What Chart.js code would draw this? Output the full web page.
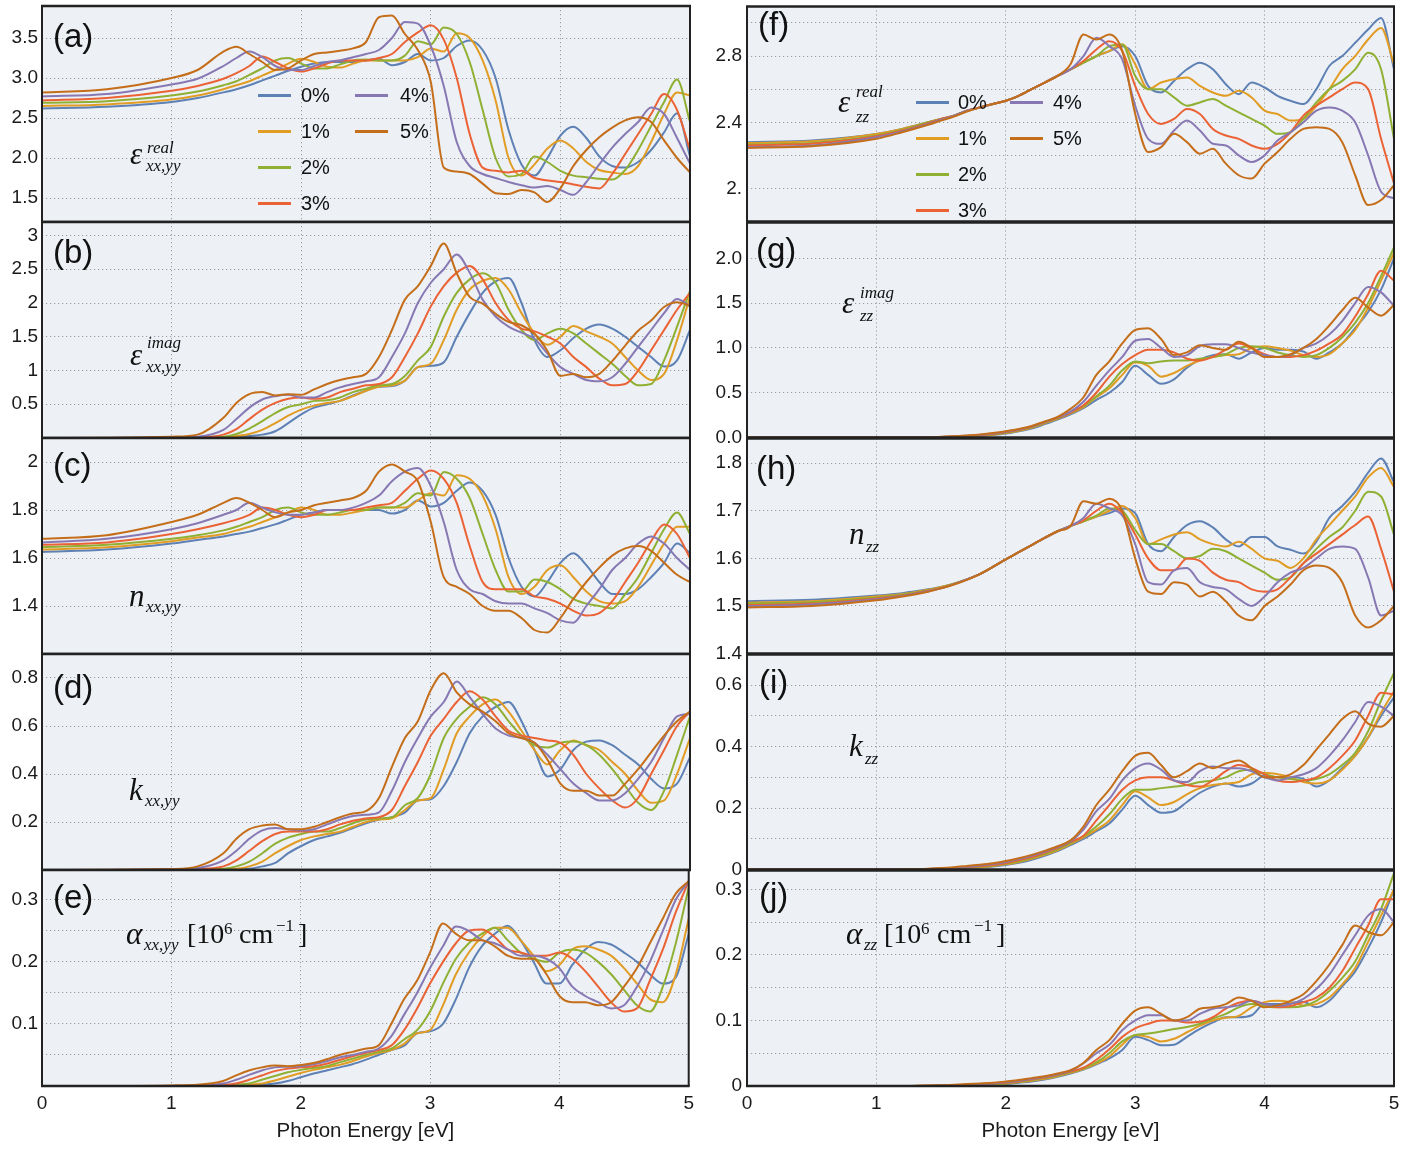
<!DOCTYPE html>
<html><head><meta charset="utf-8">
<script src="https://cdn.jsdelivr.net/npm/chart.js@4.4.0/dist/chart.umd.min.js"></script>
<style>
html,body{margin:0;padding:0;background:#fff;}
body{width:1418px;height:1149px;position:relative;overflow:hidden;font-family:"Liberation Sans",Arial,sans-serif;}
canvas{position:absolute;}
.t{position:absolute;white-space:nowrap;line-height:1;color:#111;}
.serif{font-family:"Liberation Serif","Times New Roman",serif;}
.it{font-style:italic;}
.sans{font-family:"Liberation Sans",Arial,sans-serif;}
.lg{position:absolute;height:3px;width:33px;}
</style></head><body>
<script>
// ---------------- DATA ----------------
const E = [0,0.5,1,1.2,1.4,1.5,1.6,1.7,1.8,1.9,2,2.1,2.2,2.3,2.4,2.5,2.6,2.7,2.8,2.9,3,3.1,3.2,3.3,3.4,3.5,3.6,3.7,3.8,3.9,4,4.1,4.2,4.3,4.4,4.5,4.6,4.7,4.8,4.9,5];
const strains = ['0%','1%','2%','3%','4%','5%'];
const xTicks = [0,1,2,3,4,5];
const xLabels = ['0','1','2','3','4','5'];
const xTitle = 'Photon Energy [eV]';

// (a) eps real xx,yy
const a0=[2.62,2.64,2.70,2.75,2.82, 2.86,2.91,2.97,3.03,3.09, 3.14,3.18,3.20,3.20,3.20, 3.22,3.24,3.16,3.20,3.30, 3.22,3.25,3.40,3.47,3.35, 3.00,2.35,1.92,1.78,2.00, 2.28,2.39,2.25,2.02,1.90, 1.88,1.95,2.10,2.32,2.56, 2.02];
const a1=[2.65,2.67,2.73,2.78,2.86, 2.91,2.96,3.03,3.10,3.18, 3.24,3.20,3.14,3.13,3.18, 3.22,3.22,3.22,3.22,3.26, 3.37,3.33,3.56,3.50,3.22, 2.72,2.00,1.78,1.92,2.12, 2.22,2.12,1.95,1.85,1.82, 1.80,1.90,2.20,2.55,2.82, 2.78];
const a2=[2.69,2.71,2.78,2.83,2.91, 2.96,3.04,3.12,3.22,3.25, 3.18,3.12,3.12,3.17,3.22, 3.23,3.22,3.22,3.28,3.46, 3.42,3.63,3.55,3.20,2.60, 2.00,1.77,1.80,2.02,1.95, 1.84,1.78,1.76,1.74,1.73, 1.85,2.10,2.40,2.70,2.98, 2.45];
const a3=[2.72,2.75,2.84,2.90,2.99, 3.06,3.15,3.27,3.20,3.12, 3.08,3.12,3.18,3.22,3.22, 3.22,3.25,3.30,3.45,3.57, 3.66,3.48,3.00,2.30,1.88, 1.84,1.82,1.84,1.75,1.72, 1.70,1.67,1.64,1.62,1.80, 2.05,2.30,2.55,2.80,2.60, 2.10];
const a4=[2.77,2.80,2.92,2.99,3.15, 3.25,3.33,3.26,3.15,3.10, 3.10,3.15,3.20,3.22,3.26, 3.30,3.35,3.50,3.70,3.68, 3.40,2.90,2.20,1.90,1.80, 1.75,1.70,1.66,1.63,1.65, 1.60,1.54,1.70,1.92,2.13, 2.30,2.45,2.63,2.55,2.25, 1.93];
const a5=[2.82,2.86,3.00,3.10,3.33, 3.39,3.30,3.20,3.10,3.12, 3.22,3.30,3.32,3.34,3.37, 3.45,3.76,3.78,3.55,3.35, 2.95,1.88,1.83,1.80,1.68, 1.56,1.55,1.60,1.57,1.45, 1.62,1.90,2.10,2.26,2.38, 2.47,2.51,2.45,2.22,2.00, 1.82];
// (b) eps imag xx,yy
const b0=[0,0,0.003,0.005,0.01, 0.015,0.03,0.05,0.10,0.22, 0.35,0.45,0.50,0.55,0.63, 0.70,0.76,0.77,0.85,1.05, 1.07,1.12,1.50,1.85,2.15, 2.32,2.37,2.00,1.45,1.20, 1.30,1.48,1.62,1.68,1.62, 1.50,1.35,1.20,1.06,1.15, 1.60];
const b1=[0,0,0.003,0.006,0.012, 0.03,0.06,0.12,0.22,0.33, 0.42,0.48,0.52,0.55,0.62, 0.70,0.76,0.78,0.85,1.05, 1.10,1.45,1.90,2.20,2.33, 2.37,2.20,1.85,1.55,1.38, 1.50,1.66,1.58,1.50,1.40, 1.20,1.00,0.86,0.95,1.45, 2.10];
const b2=[0,0,0.004,0.008,0.02, 0.06,0.14,0.25,0.37,0.46, 0.50,0.55,0.56,0.60,0.68, 0.73,0.78,0.80,0.92,1.15, 1.35,1.80,2.15,2.35,2.44, 2.30,1.90,1.60,1.45,1.55, 1.62,1.55,1.40,1.25,1.10, 0.92,0.78,0.80,1.15,1.65, 2.18];
const b3=[0,0,0.005,0.01,0.05, 0.13,0.28,0.42,0.52,0.58, 0.60,0.58,0.60,0.68,0.73, 0.78,0.80,0.90,1.20,1.55, 1.95,2.25,2.45,2.55,2.35, 2.00,1.75,1.62,1.58,1.50, 1.40,1.20,1.05,0.88,0.78, 0.80,1.00,1.30,1.60,1.90, 2.15];
const b4=[0,0,0.008,0.02,0.12, 0.28,0.45,0.57,0.62,0.64, 0.60,0.60,0.68,0.75,0.80, 0.84,0.90,1.20,1.55,2.00, 2.30,2.50,2.72,2.45,2.05, 1.80,1.65,1.56,1.47,1.25, 1.05,0.95,0.86,0.84,0.90, 1.10,1.35,1.60,1.85,2.06, 1.95];
const b5=[0,0.003,0.02,0.05,0.30, 0.52,0.65,0.68,0.63,0.65, 0.64,0.72,0.80,0.86,0.90, 0.95,1.20,1.60,2.05,2.25, 2.55,2.88,2.44,2.09,1.99, 1.84,1.72,1.67,1.54,1.29, 0.92,0.95,0.90,0.95,1.14, 1.37,1.59,1.74,1.94,2.01, 1.96];
// (c) n xx,yy
const c0=[1.625,1.635,1.66,1.675,1.69, 1.70,1.71,1.725,1.74,1.76, 1.78,1.79,1.80,1.80,1.80, 1.80,1.80,1.785,1.80,1.84, 1.815,1.83,1.88,1.915,1.88, 1.78,1.60,1.48,1.44,1.50, 1.58,1.62,1.57,1.50,1.45, 1.45,1.47,1.52,1.58,1.66, 1.62];
const c1=[1.635,1.645,1.67,1.685,1.70, 1.715,1.73,1.75,1.77,1.79, 1.81,1.80,1.78,1.78,1.79, 1.80,1.81,1.81,1.81,1.84, 1.87,1.86,1.945,1.93,1.86, 1.72,1.52,1.45,1.48,1.55, 1.57,1.52,1.46,1.42,1.41, 1.42,1.48,1.57,1.66,1.73, 1.73];
const c2=[1.645,1.655,1.68,1.695,1.715, 1.73,1.75,1.77,1.80,1.81, 1.79,1.78,1.78,1.79,1.80, 1.80,1.81,1.81,1.83,1.87, 1.86,1.958,1.93,1.85,1.70, 1.55,1.46,1.46,1.51,1.50, 1.47,1.43,1.41,1.40,1.39, 1.45,1.52,1.62,1.72,1.79, 1.70];
const c3=[1.655,1.665,1.70,1.72,1.745, 1.76,1.78,1.81,1.80,1.78, 1.77,1.78,1.80,1.80,1.80, 1.81,1.82,1.83,1.88,1.93, 1.965,1.93,1.83,1.65,1.50, 1.47,1.47,1.47,1.44,1.43, 1.41,1.38,1.36,1.37,1.42, 1.50,1.58,1.67,1.74,1.70, 1.60];
const c4=[1.665,1.68,1.72,1.745,1.78, 1.80,1.83,1.81,1.79,1.78, 1.78,1.79,1.80,1.80,1.81, 1.83,1.86,1.92,1.96,1.975, 1.90,1.75,1.55,1.47,1.45, 1.42,1.41,1.41,1.39,1.37, 1.34,1.33,1.40,1.47,1.55, 1.60,1.66,1.69,1.66,1.60, 1.55];
const c5=[1.68,1.695,1.75,1.78,1.83, 1.85,1.83,1.80,1.77,1.79, 1.80,1.82,1.83,1.84,1.85, 1.88,1.96,1.99,1.96,1.92, 1.75,1.52,1.48,1.45,1.40, 1.38,1.38,1.35,1.30,1.29, 1.35,1.43,1.50,1.56,1.61, 1.64,1.65,1.63,1.58,1.53, 1.50];
// (d) k xx,yy
const d0=[0,0,0,0.001,0.002, 0.003,0.005,0.015,0.03,0.07, 0.10,0.125,0.14,0.155,0.175, 0.195,0.21,0.22,0.24,0.29, 0.295,0.35,0.45,0.57,0.64, 0.68,0.70,0.62,0.50,0.39, 0.42,0.50,0.535,0.54,0.52, 0.48,0.44,0.38,0.34,0.36, 0.47];
const d1=[0,0,0.001,0.002,0.003, 0.005,0.015,0.035,0.07,0.10, 0.125,0.14,0.15,0.16,0.18, 0.20,0.21,0.215,0.25,0.29, 0.30,0.42,0.57,0.64,0.69, 0.71,0.66,0.58,0.50,0.44, 0.50,0.54,0.52,0.50,0.45, 0.40,0.33,0.28,0.29,0.40, 0.55];
const d2=[0,0,0.001,0.002,0.005, 0.015,0.035,0.07,0.11,0.135, 0.15,0.16,0.16,0.175,0.195, 0.21,0.215,0.22,0.27,0.30, 0.40,0.55,0.63,0.68,0.72, 0.69,0.62,0.56,0.52,0.51, 0.53,0.535,0.52,0.48,0.42, 0.35,0.28,0.25,0.33,0.48, 0.64];
const d3=[0,0,0.002,0.004,0.015, 0.04,0.08,0.12,0.15,0.16, 0.16,0.16,0.17,0.19,0.205, 0.215,0.22,0.25,0.35,0.45, 0.56,0.63,0.70,0.745,0.71, 0.64,0.58,0.56,0.55,0.54, 0.53,0.48,0.40,0.34,0.29, 0.26,0.30,0.40,0.50,0.60, 0.66];
const d4=[0,0,0.003,0.008,0.04, 0.08,0.13,0.165,0.175,0.17, 0.165,0.17,0.19,0.21,0.225, 0.23,0.24,0.33,0.45,0.55, 0.64,0.70,0.785,0.72,0.65, 0.59,0.56,0.55,0.53,0.48, 0.42,0.36,0.32,0.29,0.29, 0.32,0.38,0.45,0.55,0.64, 0.65];
const d5=[0,0.001,0.004,0.015,0.07, 0.13,0.17,0.185,0.19,0.17, 0.17,0.18,0.20,0.22,0.235, 0.245,0.30,0.43,0.55,0.62, 0.75,0.82,0.74,0.69,0.66, 0.62,0.57,0.55,0.53,0.46, 0.36,0.33,0.33,0.31,0.31, 0.36,0.42,0.49,0.56,0.62, 0.66];
// (e) alpha xx,yy
const e0=[0,0,0,0,0, 0,0.001,0.002,0.004,0.008, 0.014,0.02,0.025,0.03,0.035, 0.042,0.05,0.058,0.065,0.085, 0.088,0.10,0.14,0.19,0.225, 0.245,0.258,0.235,0.20,0.165, 0.165,0.195,0.22,0.232,0.228, 0.215,0.20,0.18,0.165,0.175, 0.245];
const e1=[0,0,0,0,0, 0.001,0.002,0.004,0.009,0.015, 0.021,0.026,0.03,0.034,0.04, 0.047,0.053,0.058,0.068,0.085, 0.09,0.13,0.18,0.215,0.24, 0.255,0.255,0.235,0.21,0.185, 0.195,0.22,0.225,0.22,0.21, 0.19,0.165,0.14,0.135,0.18, 0.27];
const e2=[0,0,0,0,0.001, 0.002,0.004,0.01,0.016,0.022, 0.026,0.029,0.032,0.038,0.044, 0.05,0.055,0.06,0.075,0.09, 0.12,0.165,0.205,0.23,0.245, 0.255,0.235,0.215,0.205,0.20, 0.215,0.22,0.215,0.20,0.18, 0.155,0.13,0.12,0.16,0.23, 0.32];
const e3=[0,0,0,0.001,0.002, 0.004,0.01,0.017,0.024,0.028, 0.03,0.032,0.036,0.042,0.048, 0.053,0.058,0.065,0.09,0.125, 0.165,0.20,0.23,0.25,0.252, 0.24,0.22,0.215,0.21,0.21, 0.215,0.205,0.185,0.16,0.135, 0.12,0.125,0.17,0.22,0.28, 0.33];
const e4=[0,0,0,0.001,0.004, 0.01,0.018,0.025,0.03,0.031, 0.032,0.035,0.04,0.046,0.05, 0.055,0.06,0.08,0.115,0.15, 0.19,0.225,0.257,0.25,0.235, 0.23,0.22,0.21,0.21,0.205, 0.19,0.16,0.145,0.135,0.125, 0.13,0.16,0.20,0.25,0.30, 0.33];
const e5=[0,0,0.001,0.002,0.008, 0.017,0.025,0.03,0.033,0.032, 0.034,0.037,0.043,0.05,0.055, 0.06,0.065,0.10,0.14,0.17, 0.215,0.262,0.245,0.235,0.235, 0.225,0.21,0.205,0.205,0.18, 0.145,0.135,0.135,0.13,0.135, 0.16,0.19,0.23,0.27,0.31, 0.33];
// (f) eps real zz
const f0=[2.28,2.29,2.33,2.36,2.40, 2.42,2.44,2.47,2.49,2.51, 2.53,2.56,2.60,2.64,2.68, 2.72,2.76,2.80,2.83,2.86, 2.80,2.62,2.58,2.65,2.72, 2.76,2.72,2.63,2.57,2.64, 2.61,2.56,2.53,2.51,2.60, 2.74,2.80,2.88,2.96,3.03, 2.72];
const f1=[2.275,2.285,2.33,2.36,2.40, 2.42,2.44,2.47,2.49,2.51, 2.53,2.56,2.60,2.64,2.68, 2.72,2.76,2.80,2.83,2.87, 2.75,2.60,2.64,2.66,2.67, 2.62,2.58,2.56,2.59,2.55, 2.47,2.45,2.41,2.42,2.50, 2.60,2.72,2.80,2.90,2.97, 2.75];
const f2=[2.265,2.275,2.32,2.355,2.40, 2.42,2.44,2.47,2.49,2.51, 2.53,2.56,2.60,2.64,2.68, 2.72,2.76,2.80,2.86,2.87, 2.68,2.60,2.60,2.55,2.50, 2.52,2.54,2.50,2.46,2.42, 2.38,2.33,2.34,2.42,2.52, 2.60,2.65,2.72,2.82,2.72, 2.30];
const f3=[2.26,2.27,2.315,2.35,2.395, 2.42,2.44,2.47,2.49,2.51, 2.53,2.56,2.60,2.64,2.68, 2.72,2.77,2.84,2.89,2.83, 2.62,2.45,2.39,2.42,2.48, 2.45,2.36,2.32,2.30,2.26, 2.24,2.27,2.34,2.44,2.50, 2.55,2.60,2.64,2.60,2.30, 2.03];
const f4=[2.25,2.26,2.31,2.345,2.39, 2.415,2.44,2.47,2.49,2.51, 2.53,2.56,2.60,2.64,2.68, 2.72,2.80,2.91,2.86,2.78, 2.50,2.30,2.27,2.35,2.41, 2.35,2.27,2.26,2.20,2.16, 2.20,2.29,2.34,2.40,2.47, 2.49,2.47,2.40,2.20,1.98, 1.94];
const f5=[2.245,2.255,2.30,2.34,2.385, 2.41,2.435,2.465,2.49,2.51, 2.53,2.56,2.60,2.64,2.68, 2.75,2.93,2.90,2.93,2.83, 2.45,2.22,2.25,2.33,2.28, 2.21,2.24,2.15,2.08,2.06, 2.15,2.22,2.30,2.36,2.37, 2.36,2.28,2.08,1.90,1.93, 2.02];
// (g) eps imag zz
const g0=[0,0,0,0,0.002, 0.005,0.01,0.015,0.02,0.03, 0.045,0.07,0.10,0.15,0.20, 0.26,0.33,0.42,0.50,0.62, 0.80,0.70,0.60,0.65,0.78, 0.87,0.92,0.93,0.88,0.95, 1.00,0.98,0.98,0.96,0.88, 0.95,1.05,1.22,1.40,1.65, 2.00];
const g1=[0,0,0,0,0.002, 0.005,0.01,0.016,0.022,0.033, 0.05,0.075,0.11,0.16,0.21, 0.27,0.34,0.45,0.55,0.70, 0.84,0.80,0.68,0.72,0.80, 0.86,0.90,0.92,0.93,1.00, 1.02,1.00,0.97,0.92,0.90, 0.93,1.05,1.20,1.45,1.75, 2.06];
const g2=[0,0,0,0,0.002, 0.006,0.011,0.017,0.024,0.036, 0.055,0.08,0.115,0.165,0.215, 0.275,0.35,0.46,0.58,0.75, 0.85,0.83,0.85,0.86,0.86, 0.88,0.90,0.93,1.00,1.02, 1.00,0.95,0.92,0.90,0.92, 1.00,1.12,1.28,1.50,1.80, 2.12];
const g3=[0,0,0,0,0.003, 0.007,0.012,0.019,0.027,0.04, 0.06,0.085,0.12,0.17,0.22, 0.28,0.36,0.50,0.68,0.82, 0.92,0.98,0.98,0.95,0.88, 0.86,0.90,0.98,1.05,1.00, 0.93,0.90,0.90,0.92,0.97, 1.05,1.15,1.35,1.60,1.86, 1.75];
const g4=[0,0,0,0,0.003, 0.008,0.013,0.021,0.03,0.045, 0.065,0.09,0.125,0.175,0.225, 0.29,0.40,0.58,0.75,0.90, 1.08,1.10,1.00,0.90,0.92, 1.02,1.04,1.04,1.00,0.95, 0.92,0.90,0.92,1.00,1.05, 1.15,1.30,1.50,1.68,1.62, 1.47];
const g5=[0,0,0,0.001,0.004, 0.009,0.015,0.024,0.035,0.05, 0.07,0.095,0.13,0.18,0.23, 0.32,0.45,0.70,0.85,1.05, 1.20,1.22,1.10,0.92,0.95, 1.03,1.00,0.98,1.07,1.00, 0.90,0.90,0.93,1.00,1.10, 1.25,1.42,1.56,1.45,1.36, 1.48];
// (h) n zz
const h0=[1.510,1.513,1.522,1.527,1.535, 1.540,1.547,1.556,1.567,1.582, 1.598,1.613,1.628,1.643,1.657, 1.668,1.678,1.688,1.695,1.705, 1.695,1.63,1.615,1.645,1.67, 1.678,1.665,1.64,1.625,1.645, 1.645,1.625,1.618,1.61,1.635, 1.685,1.71,1.74,1.78,1.81, 1.76];
const h1=[1.507,1.510,1.520,1.525,1.534, 1.540,1.547,1.556,1.567,1.582, 1.598,1.613,1.628,1.643,1.657, 1.668,1.678,1.688,1.70,1.71, 1.685,1.63,1.64,1.65,1.655, 1.64,1.63,1.625,1.635,1.62, 1.60,1.595,1.58,1.60,1.64, 1.67,1.70,1.73,1.77,1.79, 1.75];
const h2=[1.505,1.508,1.518,1.524,1.533, 1.539,1.547,1.556,1.567,1.582, 1.598,1.613,1.628,1.643,1.657, 1.668,1.678,1.69,1.705,1.70, 1.66,1.63,1.63,1.615,1.60, 1.605,1.62,1.615,1.60,1.585, 1.57,1.555,1.56,1.59,1.62, 1.645,1.665,1.70,1.74,1.73, 1.65];
const h3=[1.502,1.505,1.516,1.522,1.532, 1.538,1.546,1.556,1.567,1.582, 1.598,1.613,1.628,1.643,1.657, 1.668,1.68,1.70,1.715,1.695, 1.65,1.60,1.575,1.575,1.60, 1.595,1.57,1.555,1.55,1.535, 1.53,1.535,1.56,1.59,1.61, 1.63,1.65,1.67,1.688,1.62, 1.53];
const h4=[1.500,1.503,1.514,1.521,1.531, 1.537,1.546,1.556,1.567,1.582, 1.598,1.613,1.628,1.643,1.657, 1.668,1.685,1.715,1.705,1.69, 1.63,1.55,1.545,1.575,1.58, 1.55,1.54,1.535,1.515,1.50, 1.52,1.55,1.57,1.58,1.60, 1.62,1.625,1.62,1.56,1.48, 1.49];
const h5=[1.497,1.500,1.512,1.520,1.530, 1.537,1.545,1.555,1.567,1.582, 1.598,1.613,1.628,1.643,1.657, 1.668,1.72,1.715,1.725,1.70, 1.60,1.53,1.525,1.55,1.545, 1.52,1.53,1.51,1.48,1.47, 1.50,1.52,1.545,1.575,1.585, 1.58,1.55,1.48,1.455,1.47, 1.50];
// (i) k zz
const i0=[0,0,0,0,0.001, 0.002,0.003,0.005,0.007,0.01, 0.015,0.022,0.032,0.045,0.06, 0.08,0.10,0.125,0.15,0.195, 0.24,0.21,0.185,0.19,0.22, 0.25,0.27,0.28,0.27,0.28, 0.305,0.30,0.30,0.295,0.27, 0.29,0.33,0.37,0.43,0.50, 0.56];
const i1=[0,0,0,0,0.001, 0.002,0.004,0.006,0.008,0.012, 0.017,0.025,0.035,0.048,0.063, 0.083,0.105,0.13,0.16,0.21, 0.255,0.235,0.21,0.22,0.245, 0.265,0.275,0.28,0.285,0.31, 0.315,0.31,0.30,0.285,0.28, 0.29,0.325,0.37,0.43,0.51, 0.58];
const i2=[0,0,0,0,0.001, 0.002,0.004,0.007,0.009,0.013, 0.019,0.027,0.038,0.051,0.066, 0.086,0.108,0.14,0.18,0.23, 0.26,0.26,0.265,0.27,0.275, 0.285,0.29,0.30,0.32,0.325, 0.31,0.30,0.295,0.29,0.295, 0.31,0.34,0.38,0.45,0.55, 0.64];
const i3=[0,0,0,0,0.001, 0.003,0.005,0.008,0.011,0.015, 0.021,0.03,0.041,0.055,0.07, 0.09,0.11,0.16,0.21,0.26, 0.29,0.30,0.30,0.29,0.275, 0.27,0.29,0.32,0.34,0.33, 0.31,0.29,0.285,0.29,0.30, 0.33,0.37,0.42,0.50,0.575, 0.57];
const i4=[0,0,0,0,0.002, 0.004,0.006,0.009,0.013,0.018, 0.025,0.034,0.045,0.058,0.073, 0.092,0.13,0.19,0.23,0.29, 0.33,0.345,0.325,0.29,0.285, 0.32,0.335,0.33,0.33,0.32, 0.30,0.29,0.30,0.31,0.33, 0.37,0.42,0.48,0.545,0.53, 0.50];
const i5=[0,0,0,0.001,0.003, 0.005,0.008,0.012,0.016,0.021, 0.028,0.037,0.048,0.061,0.076, 0.095,0.14,0.21,0.26,0.32, 0.37,0.38,0.34,0.30,0.32, 0.345,0.33,0.345,0.355,0.33, 0.30,0.30,0.31,0.34,0.39, 0.44,0.49,0.515,0.475,0.465, 0.50];
// (j) alpha zz
const j0=[0,0,0,0,0, 0,0.0005,0.001,0.001,0.002, 0.003,0.005,0.007,0.01,0.014, 0.019,0.025,0.033,0.042,0.055, 0.075,0.07,0.062,0.063,0.075, 0.087,0.097,0.105,0.105,0.108, 0.125,0.125,0.127,0.128,0.12, 0.13,0.152,0.175,0.21,0.25, 0.30];
const j1=[0,0,0,0,0, 0.0005,0.001,0.001,0.002,0.003, 0.004,0.006,0.008,0.011,0.015, 0.02,0.026,0.034,0.045,0.063, 0.078,0.075,0.068,0.072,0.082, 0.092,0.10,0.104,0.107,0.12, 0.128,0.13,0.128,0.123,0.125, 0.135,0.155,0.18,0.22,0.26, 0.30];
const j2=[0,0,0,0,0, 0.0005,0.001,0.002,0.002,0.003, 0.004,0.006,0.009,0.012,0.016, 0.021,0.027,0.036,0.05,0.068, 0.078,0.08,0.083,0.087,0.09, 0.095,0.103,0.11,0.12,0.125, 0.122,0.12,0.12,0.122,0.13, 0.145,0.165,0.19,0.23,0.27, 0.325];
const j3=[0,0,0,0,0, 0.001,0.001,0.002,0.003,0.004, 0.005,0.007,0.01,0.013,0.017, 0.022,0.028,0.04,0.056,0.075, 0.088,0.095,0.10,0.10,0.097, 0.098,0.105,0.118,0.127,0.13, 0.125,0.12,0.122,0.128,0.135, 0.15,0.175,0.21,0.245,0.285, 0.285];
const j4=[0,0,0,0,0, 0.001,0.001,0.002,0.003,0.004, 0.006,0.008,0.011,0.014,0.018, 0.023,0.035,0.05,0.063,0.085, 0.10,0.108,0.108,0.10,0.10, 0.11,0.118,0.12,0.123,0.13, 0.125,0.122,0.125,0.133,0.148, 0.17,0.20,0.23,0.26,0.27, 0.25];
const j5=[0,0,0,0,0.001, 0.001,0.002,0.003,0.004,0.005, 0.007,0.009,0.012,0.015,0.019, 0.024,0.035,0.055,0.07,0.095, 0.115,0.12,0.11,0.10,0.105, 0.118,0.12,0.125,0.135,0.13, 0.12,0.123,0.13,0.14,0.16, 0.185,0.215,0.245,0.235,0.23, 0.25];

// y tick values and labels
const aTicks=[1.5,2,2.5,3,3.5], aLabels=['1.5','2.0','2.5','3.0','3.5'];
const bTicks=[0.5,1,1.5,2,2.5,3], bLabels=['0.5','1','1.5','2','2.5','3'];
const cTicks=[1.4,1.6,1.8,2], cLabels=['1.4','1.6','1.8','2'];
const dTicks=[0.2,0.4,0.6,0.8], dLabels=['0.2','0.4','0.6','0.8'];
const eTicks=[0.05,0.1,0.15,0.2,0.25,0.3], eLabels=['','0.1','','0.2','','0.3'];
const fTicks=[2,2.2,2.4,2.6,2.8,3], fLabels=['2.','','2.4','','2.8',''];
const gTicks=[0,0.5,1,1.5,2], gLabels=['0.0','0.5','1.0','1.5','2.0'];
const hTicks=[1.4,1.5,1.6,1.7,1.8], hLabels=['1.4','1.5','1.6','1.7','1.8'];
const iTicks=[0,0.1,0.2,0.3,0.4,0.5,0.6], iLabels=['0','','0.2','','0.4','','0.6'];
const jTicks=[0,0.05,0.1,0.15,0.2,0.25,0.3], jLabels=['0','','0.1','','0.2','','0.3'];

// ---------------- STYLE ----------------
const colors=['#5E81B5','#E19C24','#8FB032','#EB6235','#8778B3','#C56E1A'];
const SANS='"Liberation Sans", Arial, sans-serif';
const BG='#edf0f5';
const GRID='#9c9c9c';
const TXT='#1a1a1a';

const panels=[
 {col:0,row:0,s:[a0,a1,a2,a3,a4,a5],min:1.2,max:3.9,t:aTicks,l:aLabels},
 {col:0,row:1,s:[b0,b1,b2,b3,b4,b5],min:0,max:3.2,t:bTicks,l:bLabels},
 {col:0,row:2,s:[c0,c1,c2,c3,c4,c5],min:1.2,max:2.1,t:cTicks,l:cLabels},
 {col:0,row:3,s:[d0,d1,d2,d3,d4,d5],min:0,max:0.9,t:dTicks,l:dLabels},
 {col:0,row:4,s:[e0,e1,e2,e3,e4,e5],min:0,max:0.348,t:eTicks,l:eLabels},
 {col:1,row:0,s:[f0,f1,f2,f3,f4,f5],min:1.8,max:3.1,t:fTicks,l:fLabels},
 {col:1,row:1,s:[g0,g1,g2,g3,g4,g5],min:0,max:2.4,t:gTicks,l:gLabels},
 {col:1,row:2,s:[h0,h1,h2,h3,h4,h5],min:1.4,max:1.852,t:hTicks,l:hLabels},
 {col:1,row:3,s:[i0,i1,i2,i3,i4,i5],min:0,max:0.70,t:iTicks,l:iLabels},
 {col:1,row:4,s:[j0,j1,j2,j3,j4,j5],min:0,max:0.329,t:jTicks,l:jLabels}
];

const framePlugin={
 id:'frame',
 beforeDraw(ch){const {ctx,chartArea:a}=ch;ctx.save();ctx.fillStyle=BG;ctx.fillRect(a.left,a.top,a.right-a.left,a.bottom-a.top);ctx.restore();},
 afterDraw(ch){const {ctx,chartArea:a}=ch;ctx.save();ctx.strokeStyle='#222';
  ctx.lineWidth=2;ctx.beginPath();ctx.moveTo(a.left,a.top);ctx.lineTo(a.left,a.bottom);ctx.moveTo(a.right,a.top);ctx.lineTo(a.right,a.bottom);ctx.stroke();
  ctx.lineWidth=2.5;ctx.beginPath();ctx.moveTo(a.left-1,a.top);ctx.lineTo(a.right+1,a.top);ctx.moveTo(a.left-1,a.bottom);ctx.lineTo(a.right+1,a.bottom);ctx.stroke();
  ctx.restore();}
};

const PAD=16, ROWH=216, TOP0=6;
panels.forEach(p=>{
 const cv=document.createElement('canvas');
 const left=p.col===0?0:700, width=p.col===0?700:718;
 const bottomPanel=p.row===4;
 const top=TOP0+ROWH*p.row-PAD;
 const height=bottomPanel?PAD+ROWH+62:ROWH+2*PAD;
 cv.width=width;cv.height=height;cv.style.left=left+'px';cv.style.top=top+'px';
 document.body.appendChild(cv);
 new Chart(cv,{
  type:'line',
  data:{datasets:p.s.map((arr,k)=>({label:strains[k],data:E.map((x,m)=>({x:x,y:arr[m]})),borderColor:colors[k],backgroundColor:colors[k],borderWidth:2,pointRadius:0,cubicInterpolationMode:'monotone',fill:false,order:5-k}))},
  options:{
   responsive:false,animation:false,events:[],
   layout:{padding:{top:PAD,bottom:bottomPanel?0:PAD,left:0,right:p.col===0?10:24}},
   plugins:{legend:{display:false},tooltip:{enabled:false}},
   scales:{
    x:{type:'linear',min:0,max:5,
     afterBuildTicks:s=>{s.ticks=xTicks.map(v=>({value:v}));},
     grid:{color:GRID,lineWidth:1,drawTicks:false},border:{display:false,dash:[1.2,2.8]},
     ticks:{display:bottomPanel,padding:6,font:{size:19,family:SANS},color:TXT,callback:(v,i)=>xLabels[i]},
     title:{display:bottomPanel,text:xTitle,font:{size:20.5,family:SANS},color:TXT,padding:{top:4,bottom:4}},
     afterFit:s=>{s.height=bottomPanel?62:0;}},
    y:{type:'linear',min:p.min,max:p.max,
     afterBuildTicks:s=>{s.ticks=p.t.map(v=>({value:v}));},
     grid:{color:GRID,lineWidth:1,drawTicks:false},border:{display:false,dash:[1.2,2.8]},
     ticks:{padding:p.col===0?4:5,font:{size:19,family:SANS},color:TXT,autoSkip:false,callback:(v,i)=>p.l[i]},
     afterFit:s=>{s.width=p.col===0?42:47;}}
   }
  },
  plugins:[framePlugin]
 });
});

// ---------------- TEXT OVERLAYS ----------------
function T(txt,x,base,size,cls){
 const s=document.createElement('span');s.className='t '+cls;s.textContent=txt;
 s.style.left=x+'px';s.style.top=(base-0.84*size)+'px';s.style.fontSize=size+'px';
 document.body.appendChild(s);
}
// panel letters
[['(a)',53,47],['(b)',53,263],['(c)',53,476],['(d)',53,698],['(e)',53,908],
 ['(f)',758,35],['(g)',756,261],['(h)',756,479],['(i)',759,693],['(j)',759,906]]
 .forEach(q=>T(q[0],q[1],q[2],33,'sans'));
// quantity annotations
const anns=[
 ['ε',130,164,31,'serif it'],['real',147,153,17,'serif it'],['xx,yy',146,171,17,'serif it'],
 ['ε',130,365,31,'serif it'],['imag',147,348,17,'serif it'],['xx,yy',146,372,17,'serif it'],
 ['n',129,606,31,'serif it'],['xx,yy',146,612,17,'serif it'],
 ['k',129,800,31,'serif it'],['xx,yy',145,806,17,'serif it'],
 ['α',126,944,31,'serif it'],['xx,yy',144,950,17,'serif it'],['[10',187,944,28,'serif'],['6',224,934,17,'serif'],['cm',239,944,28,'serif'],['−1',276,931,17,'serif'],[']',298,944,28,'serif'],
 ['ε',838,112,31,'serif it'],['real',856,97,17,'serif it'],['zz',856,122,17,'serif it'],
 ['ε',842,313,31,'serif it'],['imag',860,298,17,'serif it'],['zz',860,321,17,'serif it'],
 ['n',849,544,31,'serif it'],['zz',866,552,17,'serif it'],
 ['k',849,756,31,'serif it'],['zz',865,764,17,'serif it'],
 ['α',846,944,31,'serif it'],['zz',864,950,17,'serif it'],['[10',884,944,28,'serif'],['6',921,934,17,'serif'],['cm',937,944,28,'serif'],['−1',974,931,17,'serif'],[']',996,944,28,'serif']
];
anns.forEach(q=>T(q[0],q[1],q[2],q[3],q[4]));
// legends
function legend(lx1,tx1,lx2,tx2,ys){
 const slots=[[lx1,tx1,ys[0]],[lx1,tx1,ys[1]],[lx1,tx1,ys[2]],[lx1,tx1,ys[3]],[lx2,tx2,ys[0]],[lx2,tx2,ys[1]]];
 slots.forEach((sl,k)=>{
  const d=document.createElement('div');d.className='lg';d.style.left=sl[0]+'px';d.style.top=(sl[2]-1.5)+'px';d.style.background=colors[k];document.body.appendChild(d);
  T(strains[k],sl[1],sl[2]+7,20,'sans');
 });
}
legend(258,301,355,400,[95,131,167,203]);
legend(916,958,1010,1053,[102,138,174,210]);
</script>
</body></html>
